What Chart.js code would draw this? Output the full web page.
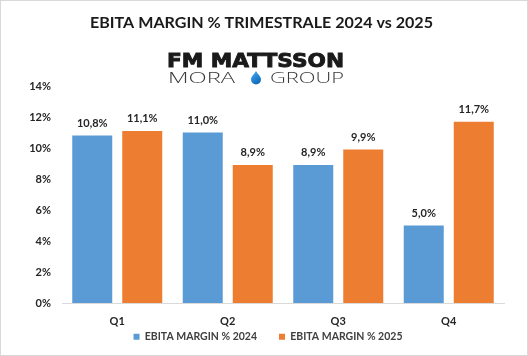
<!DOCTYPE html>
<html>
<head>
<meta charset="utf-8">
<script src="https://cdn.jsdelivr.net/npm/chart.js@4/dist/chart.umd.min.js"></script>
<style>
  html, body { margin: 0; padding: 0; background: #fff; }
  #wrap { position: relative; width: 528px; height: 356px; }
</style>
</head>
<body>
<div id="wrap"><canvas id="c"></canvas></div>
<script>
const titleText = 'EBITA MARGIN % TRIMESTRALE 2024 vs 2025';
const logoLine1 = 'FM MATTSSON';
const logoLeft = 'MORA';
const logoRight = 'GROUP';
const categories = ['Q1', 'Q2', 'Q3', 'Q4'];
const seriesNames = ['EBITA MARGIN % 2024', 'EBITA MARGIN % 2025'];
const values2024 = [10.8, 11.0, 8.9, 5.0];
const values2025 = [11.1, 8.9, 9.9, 11.7];
const yTicks = [0, 2, 4, 6, 8, 10, 12, 14];

const BLUE = '#5B9BD5';
const ORANGE = '#ED7D31';
const FONT = 'Lato, "Open Sans", "DejaVu Sans", sans-serif';

function fmt(v) { return v.toFixed(1).replace('.', ',') + '%'; }

function fitText(ctx, text, x, y, width, stroke) {
  const w = ctx.measureText(text).width;
  ctx.save();
  ctx.translate(x, y);
  ctx.scale(width / w, 1);
  ctx.fillText(text, 0, 0);
  if (stroke) { ctx.lineWidth = stroke; ctx.strokeText(text, 0, 0); }
  ctx.restore();
}

const decor = {
  id: 'decor',
  afterLayout(chart) {
    const lg = chart.legend;
    if (lg) {
      lg.top = 309.5;
      lg.bottom = chart.height;
      lg.height = lg.bottom - lg.top;
      lg.left += 11;
      lg.right += 11;
    }
  },
  beforeDraw(chart) {
    const ctx = chart.ctx;
    ctx.save();
    ctx.fillStyle = '#fff';
    ctx.fillRect(0, 0, chart.width, chart.height);
    ctx.restore();
  },
  afterDraw(chart) {
    const ctx = chart.ctx;
    ctx.save();
    // title
    ctx.fillStyle = '#1a1a1a';
    ctx.textBaseline = 'alphabetic';
    ctx.textAlign = 'left';
    ctx.font = 'bold 16px ' + FONT;
    fitText(ctx, titleText, 90, 28, 343);
    // logo line 1
    ctx.strokeStyle = '#1a1a1a';
    ctx.font = 'bold 19px "DejaVu Sans", sans-serif';
    fitText(ctx, logoLine1, 167, 67, 177, 0.9);
    // logo line 2
    ctx.fillStyle = '#3a3a3a';
    ctx.font = '300 14px "Open Sans", "DejaVu Sans", sans-serif';
    fitText(ctx, logoLeft, 168, 83, 67);
    fitText(ctx, logoRight, 270, 83, 74);
    // drop
    const cx = 256;
    const g = ctx.createLinearGradient(cx - 5, 72, cx + 5, 84);
    g.addColorStop(0, '#3FA9F5');
    g.addColorStop(1, '#0B5FB0');
    ctx.fillStyle = g;
    ctx.beginPath();
    ctx.moveTo(cx, 71);
    ctx.bezierCurveTo(cx + 1.5, 74, cx + 5, 76.5, cx + 5, 79.5);
    ctx.arc(cx, 79.5, 5, 0, Math.PI, false);
    ctx.bezierCurveTo(cx - 5, 76.5, cx - 1.5, 74, cx, 71);
    ctx.closePath();
    ctx.fill();
    // border
    ctx.strokeStyle = '#d9d9d9';
    ctx.lineWidth = 1;
    ctx.strokeRect(0.5, 0.5, chart.width - 1, chart.height - 1);
    ctx.restore();
  },
  afterDatasetsDraw(chart) {
    const ctx = chart.ctx;
    ctx.save();
    ctx.font = 'bold 11px ' + FONT;
    ctx.fillStyle = '#262626';
    ctx.textAlign = 'center';
    ctx.textBaseline = 'bottom';
    chart.data.datasets.forEach((ds, i) => {
      const meta = chart.getDatasetMeta(i);
      meta.data.forEach((bar, j) => {
        ctx.fillText(fmt(ds.data[j]), bar.x, bar.y - 7);
      });
    });
    ctx.restore();
  }
};

new Chart(document.getElementById('c'), {
  type: 'bar',
  data: {
    labels: categories,
    datasets: [
      { label: seriesNames[0], data: values2024, backgroundColor: BLUE, categoryPercentage: 0.905, barPercentage: 0.8 },
      { label: seriesNames[1], data: values2025, backgroundColor: ORANGE, categoryPercentage: 0.905, barPercentage: 0.8 }
    ]
  },
  options: {
    responsive: true,
    maintainAspectRatio: false,
    animation: false,
    layout: { padding: { top: 86, left: 10, right: 24, bottom: 0 } },
    plugins: {
      title: { display: false },
      tooltip: { enabled: false },
      legend: {
        display: true,
        position: 'bottom',
        maxHeight: 28,
        labels: {
          boxWidth: 6, boxHeight: 6, padding: 22,
          color: '#404040',
          font: { family: FONT, size: 10.5, weight: 'bold' }
        }
      }
    },
    scales: {
      x: {
        afterFit: s => { s.height = 25; },
        grid: { display: false, drawTicks: false },
        border: { display: true, color: '#d9d9d9' },
        ticks: { color: '#262626', font: { family: FONT, size: 11, weight: 'bold' }, padding: 12 },
      },
      y: {
        min: 0, max: 14,
        afterBuildTicks: s => { s.ticks = yTicks.map(v => ({ value: v })); },
        afterFit: s => { s.width = 52; },
        grid: { display: false, drawTicks: false },
        border: { display: false },
        ticks: { color: '#262626', font: { family: FONT, size: 11, weight: 'bold' }, padding: 11, callback: v => v + '%' }
      }
    }
  },
  plugins: [decor]
});
</script>
</body>
</html>
